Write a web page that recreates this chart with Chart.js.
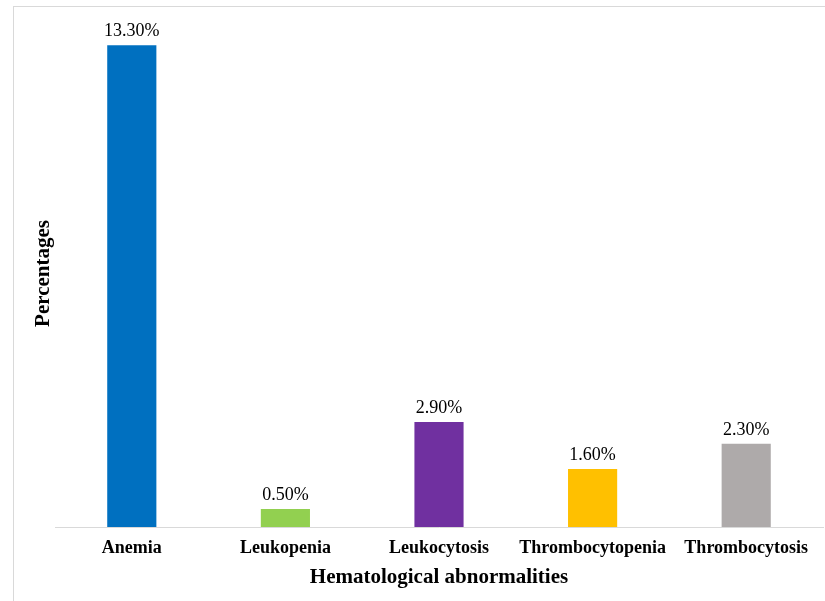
<!DOCTYPE html>
<html>
<head>
<meta charset="utf-8">
<script src="https://cdn.jsdelivr.net/npm/chart.js@4"></script>
<style>
  html, body { margin: 0; padding: 0; background: #fff; }
  #wrap { width: 825px; height: 601px; position: relative; }
</style>
</head>
<body>
<div id="wrap"><canvas id="chart" width="825" height="601"></canvas></div>
<script>
const categories = ['Anemia', 'Leukopenia', 'Leukocytosis', 'Thrombocytopenia', 'Thrombocytosis'];
const percentages = [13.3, 0.5, 2.9, 1.6, 2.3];
const barColors = ['#0070C0', '#92D050', '#7030A0', '#FFC000', '#AEAAAA'];

const serif = '"Liberation Serif", "Times New Roman", serif';

// light frame around the whole figure
const framePlugin = {
    id: 'frame',
    beforeDraw(chart) {
        const ctx = chart.ctx;
        ctx.save();
        ctx.fillStyle = '#fff';
        ctx.fillRect(0, 0, chart.width, chart.height);
        ctx.strokeStyle = '#d9d9d9';
        ctx.lineWidth = 1;
        ctx.strokeRect(13.5, 6.5, chart.width + 20, chart.height + 20);
        ctx.restore();
    }
};

// percentage label above each bar
const valueLabels = {
    id: 'valueLabels',
    afterDatasetsDraw(chart) {
        const ctx = chart.ctx;
        const meta = chart.getDatasetMeta(0);
        ctx.save();
        ctx.font = '18px ' + serif;
        ctx.fillStyle = '#000';
        ctx.textAlign = 'center';
        ctx.textBaseline = 'alphabetic';
        meta.data.forEach((bar, i) => {
            ctx.fillText(percentages[i].toFixed(2) + '%', bar.x, bar.y - 9);
        });
        ctx.restore();
    }
};

new Chart(document.getElementById('chart'), {
    type: 'bar',
    data: {
        labels: categories,
        datasets: [{
            data: percentages,
            backgroundColor: barColors,
            borderWidth: 0,
            categoryPercentage: 1,
            barPercentage: 0.32
        }]
    },
    options: {
        responsive: false,
        animation: false,
        layout: { padding: { top: 20, right: 2, left: 0, bottom: 0 } },
        plugins: {
            legend: { display: false },
            tooltip: { enabled: false }
        },
        scales: {
            x: {
                afterFit(scale) { scale.height = 74; },
                grid: { display: false, drawTicks: false },
                border: { display: true, color: '#d9d9d9', width: 1 },
                ticks: {
                    padding: 11,
                    color: '#000',
                    font: { family: serif, size: 18, weight: 'bold' }
                },
                title: {
                    display: true,
                    text: 'Hematological abnormalities',
                    color: '#000',
                    font: { family: serif, size: 21, weight: 'bold' },
                    padding: { top: 0, bottom: 11 }
                }
            },
            y: {
                min: 0,
                max: 14,
                afterFit(scale) { scale.width = 55; },
                grid: { display: false },
                border: { display: false },
                ticks: { display: false },
                title: {
                    display: true,
                    text: 'Percentages',
                    color: '#000',
                    font: { family: serif, size: 21, weight: 'bold' },
                    padding: { top: 31, bottom: 0 }
                }
            }
        }
    },
    plugins: [framePlugin, valueLabels]
});
</script>
</body>
</html>
